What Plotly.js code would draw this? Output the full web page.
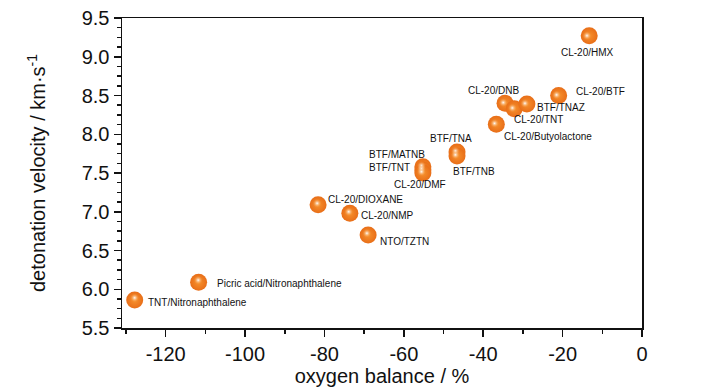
<!DOCTYPE html>
<html>
<head>
<meta charset="utf-8">
<script src="https://cdn.plot.ly/plotly-3.0.1.min.js"></script>
<style>html,body{margin:0;padding:0;background:#fff;}#chart{width:728px;height:390px;}</style>
</head>
<body>
<div id="chart"></div>
<script>
// ---- data ----
var names = ["CL-20/HMX","CL-20/BTF","CL-20/DNB","CL-20/TNT","BTF/TNAZ","CL-20/Butyolactone",
             "BTF/TNA","BTF/TNB","BTF/MATNB","BTF/TNT","CL-20/DMF","CL-20/DIOXANE",
             "CL-20/NMP","NTO/TZTN","Picric acid/Nitronaphthalene","TNT/Nitronaphthalene"];
var oxygenBalance = [-13.3,-21.0,-34.5,-32.2,-29.0,-36.7,-46.6,-46.6,-55.2,-55.2,-55.2,-81.6,-73.6,-69.0,-111.7,-127.8];
var detVelocity   = [9.27,8.50,8.40,8.33,8.39,8.13,7.77,7.72,7.58,7.54,7.50,7.09,6.98,6.70,6.09,5.86];
var xTickVals = [-120,-100,-80,-60,-40,-20,0];
var xTickText = ["-120","-100","-80","-60","-40","-20","0"];
var yTickVals = [5.5,6.0,6.5,7.0,7.5,8.0,8.5,9.0,9.5];
var yTickText = ["5.5","6.0","6.5","7.0","7.5","8.0","8.5","9.0","9.5"];

// ---- label placement (styling only: anchor, pixel shifts) ----
var labelAnchor = ["center","left","center","left","left","left","center","left","right","right","center","left","left","left","left","left"];
var labelDX = [-2,15,-12,-2,8,6,-6,-6,4,-11,-3,8,9,10,16,11];
var labelDY = [-17,4,13,-11,-3,-12,14,-16,12,2,-11,5,-2,-6,-1,-2];

var font = "Liberation Sans, Arial, sans-serif";

var base = {
  x: oxygenBalance, y: detVelocity, type: "scatter", mode: "markers",
  hoverinfo: "skip",
  marker: {size: 17, color: "#E86E18", gradient: {type: "radial", color: "#F7922E"}, line: {width: 0}},
  xaxis: "x", yaxis: "y", cliponaxis: false
};
var highlight = {
  x: oxygenBalance, y: detVelocity, type: "scatter", mode: "markers",
  hoverinfo: "skip",
  marker: {size: 9, color: "rgba(247,146,46,0)", gradient: {type: "radial", color: "#FFFFFF"}, line: {width: 0}},
  xaxis: "x2", yaxis: "y2", cliponaxis: false
};

var annotations = names.map(function (n, i) {
  return {
    x: oxygenBalance[i], y: detVelocity[i], xref: "x", yref: "y",
    text: n, showarrow: false, xanchor: labelAnchor[i], yanchor: "middle",
    xshift: labelDX[i], yshift: labelDY[i],
    font: {family: font, size: 10, color: "#111"}
  };
});

var W = 728 - 122 - 86, H = 390 - 18 - 62;
var sx = 2.5 / W, sy = 2.5 / H;

var layout = {
  width: 728, height: 390,
  margin: {l: 122, r: 86, t: 18, b: 62},
  paper_bgcolor: "#fff", plot_bgcolor: "rgba(0,0,0,0)",
  showlegend: false,
  font: {family: font, color: "#111"},
  xaxis: {
    range: [-131, 0], domain: [0, 1],
    tickvals: xTickVals, ticktext: xTickText, ticks: "outside", ticklen: 7, tickwidth: 1.5, tickcolor: "#111",
    minor: {dtick: 10, ticks: "outside", ticklen: 4, tickwidth: 1.5, tickcolor: "#111"},
    showline: true, linecolor: "#111", linewidth: 1.5, mirror: true,
    showgrid: false, zeroline: false,
    tickfont: {family: font, size: 20, color: "#111"},
    title: {text: "oxygen balance / %", font: {family: font, size: 20, color: "#111"}, standoff: 4}
  },
  yaxis: {
    range: [5.5, 9.5], domain: [0, 1],
    tickvals: yTickVals, ticktext: yTickText, ticks: "outside", ticklen: 7, tickwidth: 1.5, tickcolor: "#111",
    minor: {dtick: 0.125, tick0: 5.5, ticks: "outside", ticklen: 4, tickwidth: 1.5, tickcolor: "#111"},
    showline: true, linecolor: "#111", linewidth: 1.5, mirror: true,
    showgrid: false, zeroline: false,
    tickfont: {family: font, size: 20, color: "#111"},
    title: {text: "detonation velocity / km·s<sup>-1</sup>", font: {family: font, size: 20, color: "#111"}, standoff: 30}
  },
  xaxis2: {range: [-131, 0], domain: [-sx, 1 - sx], visible: false, anchor: "y2", fixedrange: true},
  yaxis2: {range: [5.5, 9.5], domain: [sy, 1 + sy], visible: false, anchor: "x2", fixedrange: true},
  annotations: annotations
};

Plotly.newPlot("chart", [base, highlight], layout, {displayModeBar: false, staticPlot: true});
</script>
</body>
</html>
